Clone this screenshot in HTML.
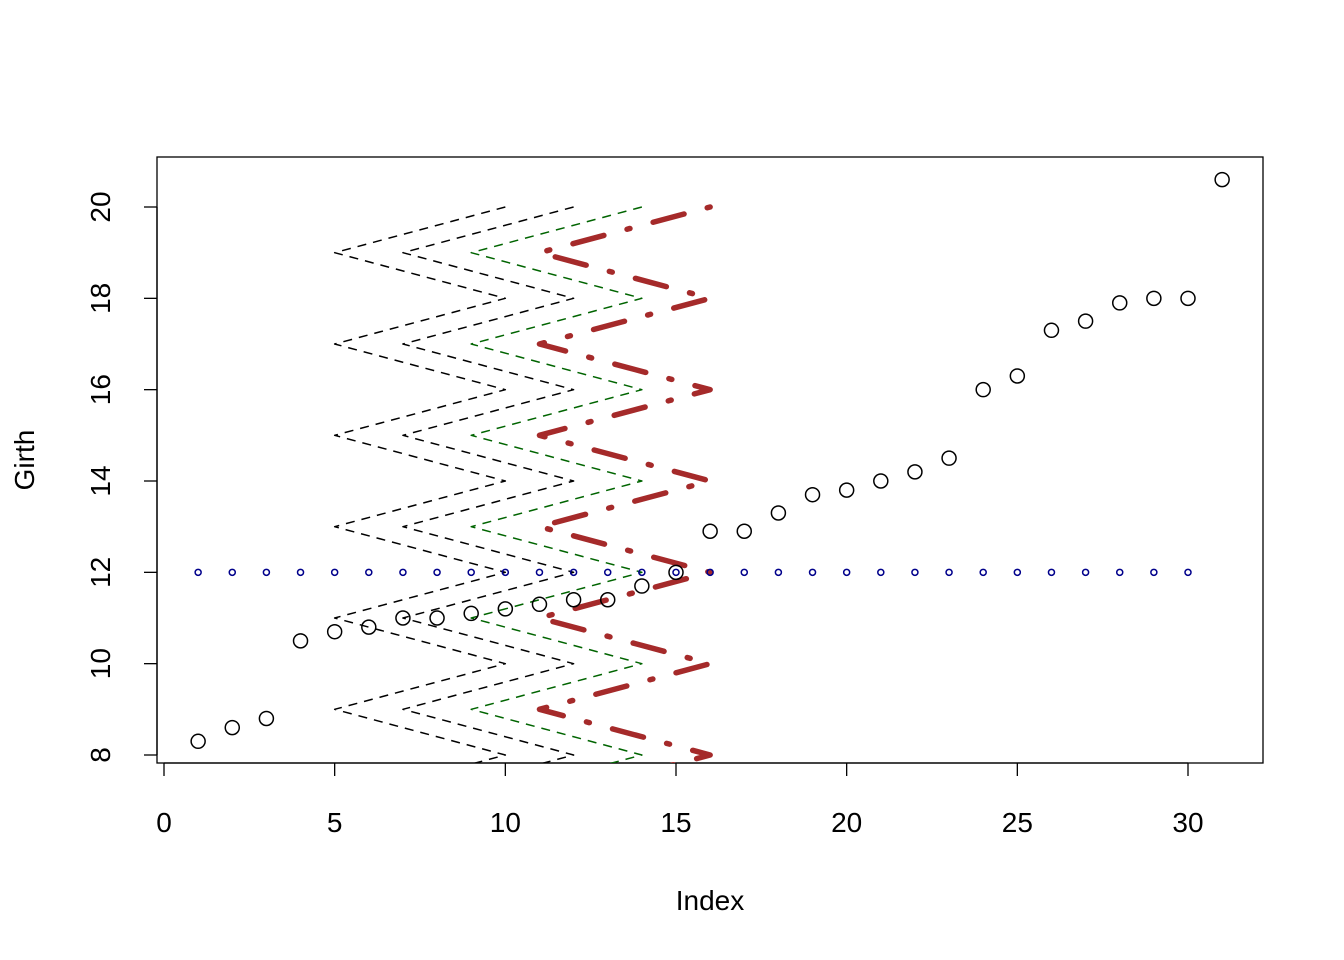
<!DOCTYPE html>
<html><head><meta charset="utf-8"><style>body{margin:0;background:#fff}svg{display:block}text{font-family:"Liberation Sans",sans-serif;fill:#000}</style></head>
<body>
<svg id="chart" width="1344" height="960">
<defs><clipPath id="clip"><rect x="157" y="157" width="1106" height="606"/></clipPath></defs>
<rect x="157" y="157" width="1106" height="606" fill="none" stroke="#000" stroke-width="1.3"/>
<g id="xaxis"></g>
<g id="yaxis"></g>
<g id="marks" clip-path="url(#clip)"></g>
<text x="710" y="910" text-anchor="middle" font-size="28">Index</text>
<text transform="translate(34,460) rotate(-90)" text-anchor="middle" font-size="28">Girth</text>
</svg>
<script>
const girth=[8.3,8.6,8.8,10.5,10.7,10.8,11.0,11.0,11.1,11.2,11.3,11.4,11.4,11.7,12.0,12.9,12.9,13.3,13.7,13.8,14.0,14.2,14.5,16.0,16.3,17.3,17.5,17.9,18.0,18.0,20.6];
const refLevel=12;
const refCount=30;
const zigY=[20,19,18,17,16,15,14,13,12,11,10,9,8,7];
const zigHighX=[10,12,14,16];
const zigLowX=[5,7,9,11];
const xTicks=[0,5,10,15,20,25,30];
const yTicks=[8,10,12,14,16,18,20];
const NS="http://www.w3.org/2000/svg";
const sx=v=>164+v*(1188-164)/30;
const sy=v=>755-(v-8)*(755-207)/12;
function mk(t,a,p){const e=document.createElementNS(NS,t);for(const k in a)e.setAttribute(k,a[k]);p.appendChild(e);return e;}
const xa=document.getElementById('xaxis'),ya=document.getElementById('yaxis'),m=document.getElementById('marks');
mk('line',{x1:sx(0),x2:sx(30),y1:763,y2:763,stroke:'#000','stroke-width':1.3},xa);
xTicks.forEach(t=>{mk('line',{x1:sx(t),x2:sx(t),y1:763,y2:776,stroke:'#000','stroke-width':1.3},xa);
const tx=mk('text',{x:sx(t),y:832,'text-anchor':'middle','font-size':28},xa);tx.textContent=t;

});
mk('line',{x1:157,x2:157,y1:sy(8),y2:sy(20),stroke:'#000','stroke-width':1.3},ya);
yTicks.forEach(t=>{mk('line',{x1:144,x2:157,y1:sy(t),y2:sy(t),stroke:'#000','stroke-width':1.3},ya);
const tx=mk('text',{x:0,y:0,'text-anchor':'middle','font-size':28,transform:`translate(110,${sy(t)}) rotate(-90)`},ya);tx.textContent=t;

});
const styles=[{c:'#000',w:1.5,d:'9 7',cap:'butt'},{c:'#000',w:1.5,d:'9 7',cap:'butt'},{c:'#006400',w:1.5,d:'9 7',cap:'butt'},{c:'#a52a2a',w:5.5,d:'3 24 32 24',cap:'round'}];
zigHighX.forEach((hx,i)=>{const lx=zigLowX[i];
const pts=zigY.map((y,j)=>`${sx(j%2?lx:hx)},${sy(y)}`).join(' ');
const s=styles[i];
const pl=mk('polyline',{points:pts,fill:'none',stroke:s.c,'stroke-width':s.w,'stroke-dasharray':s.d,'stroke-linecap':s.cap,'stroke-linejoin':'round'},m);

});
for(let i=1;i<=refCount;i++){const c=mk('circle',{cx:sx(i),cy:sy(refLevel),r:3,fill:'none',stroke:'#00008b','stroke-width':1.5},m);

}
girth.forEach((g,i)=>{const c=mk('circle',{cx:sx(i+1),cy:sy(g),r:7,fill:'none',stroke:'#000','stroke-width':1.5},m);

});
</script>
</body></html>
